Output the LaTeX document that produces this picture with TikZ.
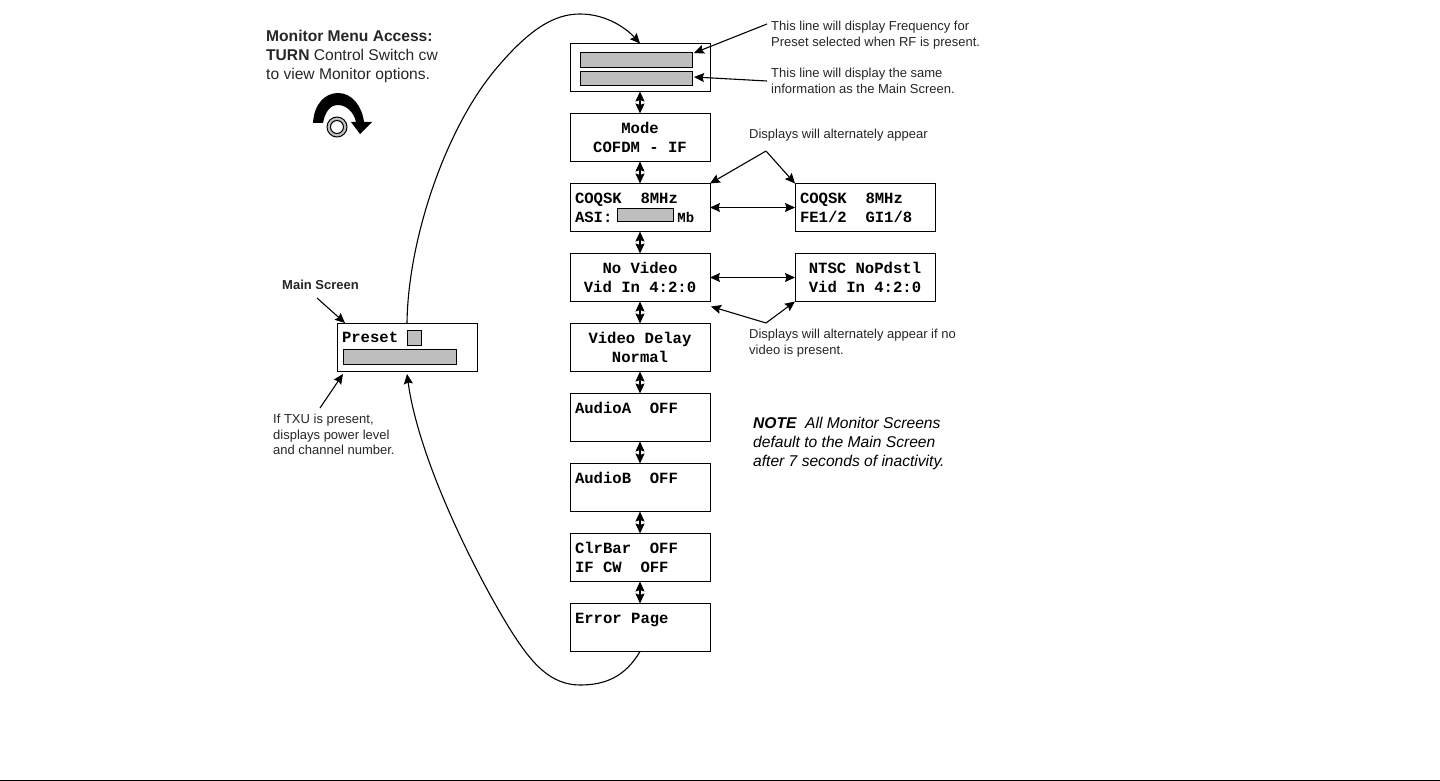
\documentclass[tikz,border=0pt]{standalone}
\usepackage{fontspec}
\setmainfont{Liberation Sans}
\setmonofont{Liberation Mono}
\usepackage{tikz}
\usetikzlibrary{arrows.meta, positioning}

\definecolor{bargray}{HTML}{BEBEBE}
\newcommand{\lcdfont}{\fontsize{15.6}{19}\selectfont\ttfamily\bfseries}
\newcommand{\lcdsp}{\hspace*{9.36pt}}

\begin{document}
\begin{tikzpicture}[
    x=1pt, y=-1pt,
    >={Stealth[length=10pt,width=9pt,inset=1.5pt]},
    node distance=22pt,
    lcdbox/.style={draw, line width=1pt, outer sep=0pt, inner sep=0pt, minimum width=140pt, minimum height=48pt, font=\lcdfont},
    lcdleft/.style={lcdbox, text width=130pt, align=left},
    lcdmid/.style={lcdbox, text width=130pt, align=center},
    lcdbar/.style={draw, line width=1pt, fill=bargray, outer sep=0pt, inner sep=0pt},
    callout/.style={line width=1.1pt, ->},
    bigcurve/.style={line width=1.1pt},
    note/.style={inner sep=0pt, align=left, anchor=north west, text=black!85, font=\fontsize{13}{15.4}\selectfont}
    ]

    % page edge and bounding box
    \useasboundingbox (0,0) rectangle (1440,781);
    \draw[line width=1pt] (0,780) -- (1440,780);

    % main column of monitor screens
    \node[lcdmid] (topscr) at (640,67.5) {};
    \node[lcdmid, below=of topscr] (modescr) {Mode\\COFDM\lcdsp-\lcdsp IF};
    \node[lcdleft, below=of modescr] (coqska) {COQSK\lcdsp\lcdsp 8MHz\\ASI:\hspace{65pt}{\fontsize{14}{19}\selectfont Mb}};
    \node[lcdmid, below=of coqska] (novideo) {No\lcdsp Video\\Vid\lcdsp In\lcdsp 4:2:0};
    \node[lcdmid, below=of novideo] (viddelay) {Video\lcdsp Delay\\Normal};
    \node[lcdleft, below=of viddelay] (audioa) {AudioA\lcdsp\lcdsp OFF\\\ };
    \node[lcdleft, below=of audioa] (audiob) {AudioB\lcdsp\lcdsp OFF\\\ };
    \node[lcdleft, below=of audiob] (clrbar) {ClrBar\lcdsp\lcdsp OFF\\IF\lcdsp CW\lcdsp\lcdsp OFF};
    \node[lcdleft, below=of clrbar] (errpage) {Error\lcdsp Page\\\ };

    % alternate screens on the right
    \node[lcdleft, right=85pt of coqska] (coqskb) {COQSK\lcdsp\lcdsp 8MHz\\FE1/2\lcdsp\lcdsp GI1/8};
    \node[lcdmid, right=85pt of novideo] (ntsc) {NTSC\lcdsp NoPdstl\\Vid\lcdsp In\lcdsp 4:2:0};

    % main screen
    \node[lcdleft, minimum height=48pt] (preset) at (407,347) {Preset\\\ };

    % gray fields
    \node[lcdbar, minimum width=112pt, minimum height=15pt] (bara) at (636,60.5) {};
    \node[lcdbar, minimum width=112pt, minimum height=14pt] (barb) at (636,79) {};
    \node[lcdbar, minimum width=56pt, minimum height=13pt] (barasi) at (645,214.5) {};
    \node[lcdbar, minimum width=14pt, minimum height=15pt] (barpre) at (414,337.5) {};
    \node[lcdbar, minimum width=113pt, minimum height=15pt] (barpow) at (399.5,356.5) {};

    % arrows between screens
    \foreach \a/\b in {topscr/modescr, modescr/coqska, coqska/novideo, novideo/viddelay, viddelay/audioa, audioa/audiob, audiob/clrbar, clrbar/errpage}
        \draw[line width=1.1pt, <->] (\a) -- (\b);
    \draw[line width=1.1pt, <->] (coqska) -- (coqskb);
    \draw[line width=1.1pt, <->] (novideo) -- (ntsc);

    % long curves, main screen to the top screen and error page back
    \draw[bigcurve, ->] (preset.north) .. controls (408,240) and (445,130) .. (495,70) .. controls (530,28) and (555,14) .. (580,14) .. controls (605,14) and (625,27) .. (topscr.north);
    \draw[bigcurve, ->] (errpage.south) .. controls (625,677) and (605,685) .. (580,685) .. controls (550,685) and (532,662) .. (517,640) .. controls (490,600) and (420,470) .. ([yshift=-3pt]preset.south);

    % callouts
    \coordinate (lineaend) at (767,24);
    \coordinate (linebend) at (767,81);
    \coordinate (altaapex) at (766,151);
    \coordinate (altbapex) at (766,323);
    \coordinate (mainend) at (317,298);
    \coordinate (txuend) at (320,408);
    \draw[callout] (lineaend) -- ([xshift=2pt]bara.north east);
    \draw[callout] (linebend) -- ([xshift=2pt,yshift=2pt]barb.east);
    \draw[callout] (altaapex) -- (coqska.north east);
    \draw[callout] (altaapex) -- (coqskb.north west);
    \draw[callout] (altbapex) -- ([xshift=1pt,yshift=-5pt]novideo.south east);
    \draw[callout] (altbapex) -- (ntsc.south west);
    \draw[callout] (mainend) -- ([xshift=8pt]preset.north west);
    \draw[callout] (txuend) -- ([xshift=6pt,yshift=-3pt]preset.south west);

    % texts
    \node[note, font=\fontsize{15.6}{19}\selectfont] (access) at (266,30) {\textbf{Monitor Menu Access:}\\\textbf{TURN} Control Switch cw\\to view Monitor options.};
    \node[note] (freqtxt) at (771,21) {This line will display Frequency for\\Preset selected when RF is present.};
    \node[note] (sametxt) at (771,68) {This line will display the same\\information as the Main Screen.};
    \node[note] (alttxt) at (749,129) {Displays will alternately appear};
    \node[note] (novidtxt) at (749,329) {Displays will alternately appear if no\\video is present.};
    \node[note] (maintxt) at (282,280) {\textbf{Main Screen}};
    \node[note] (txutxt) at (273,414) {If TXU is present,\\displays power level\\and channel number.};
    \node[note, text=black, font=\fontsize{15.6}{19}\selectfont\itshape] (notetxt) at (753,417) {\textbf{NOTE}\ \ All Monitor Screens\\default to the Main Screen\\after 7 seconds of inactivity.};

    % turn icon
    \fill (313,123) .. controls (314,104) and (325,93) .. (338,93) .. controls (352,93) and (362,106) .. (364,122) -- (372,122) -- (360,134) -- (351,122) -- (356,122) .. controls (354,112) and (346,105) .. (338,105) .. controls (330,105) and (325,112) .. (323,123) -- cycle;
    \draw[line width=1pt, fill=black!25] (337,127) circle (10pt);
    \draw[line width=1pt, fill=white] (337,127) circle (6.5pt);
\end{tikzpicture}
\end{document}
